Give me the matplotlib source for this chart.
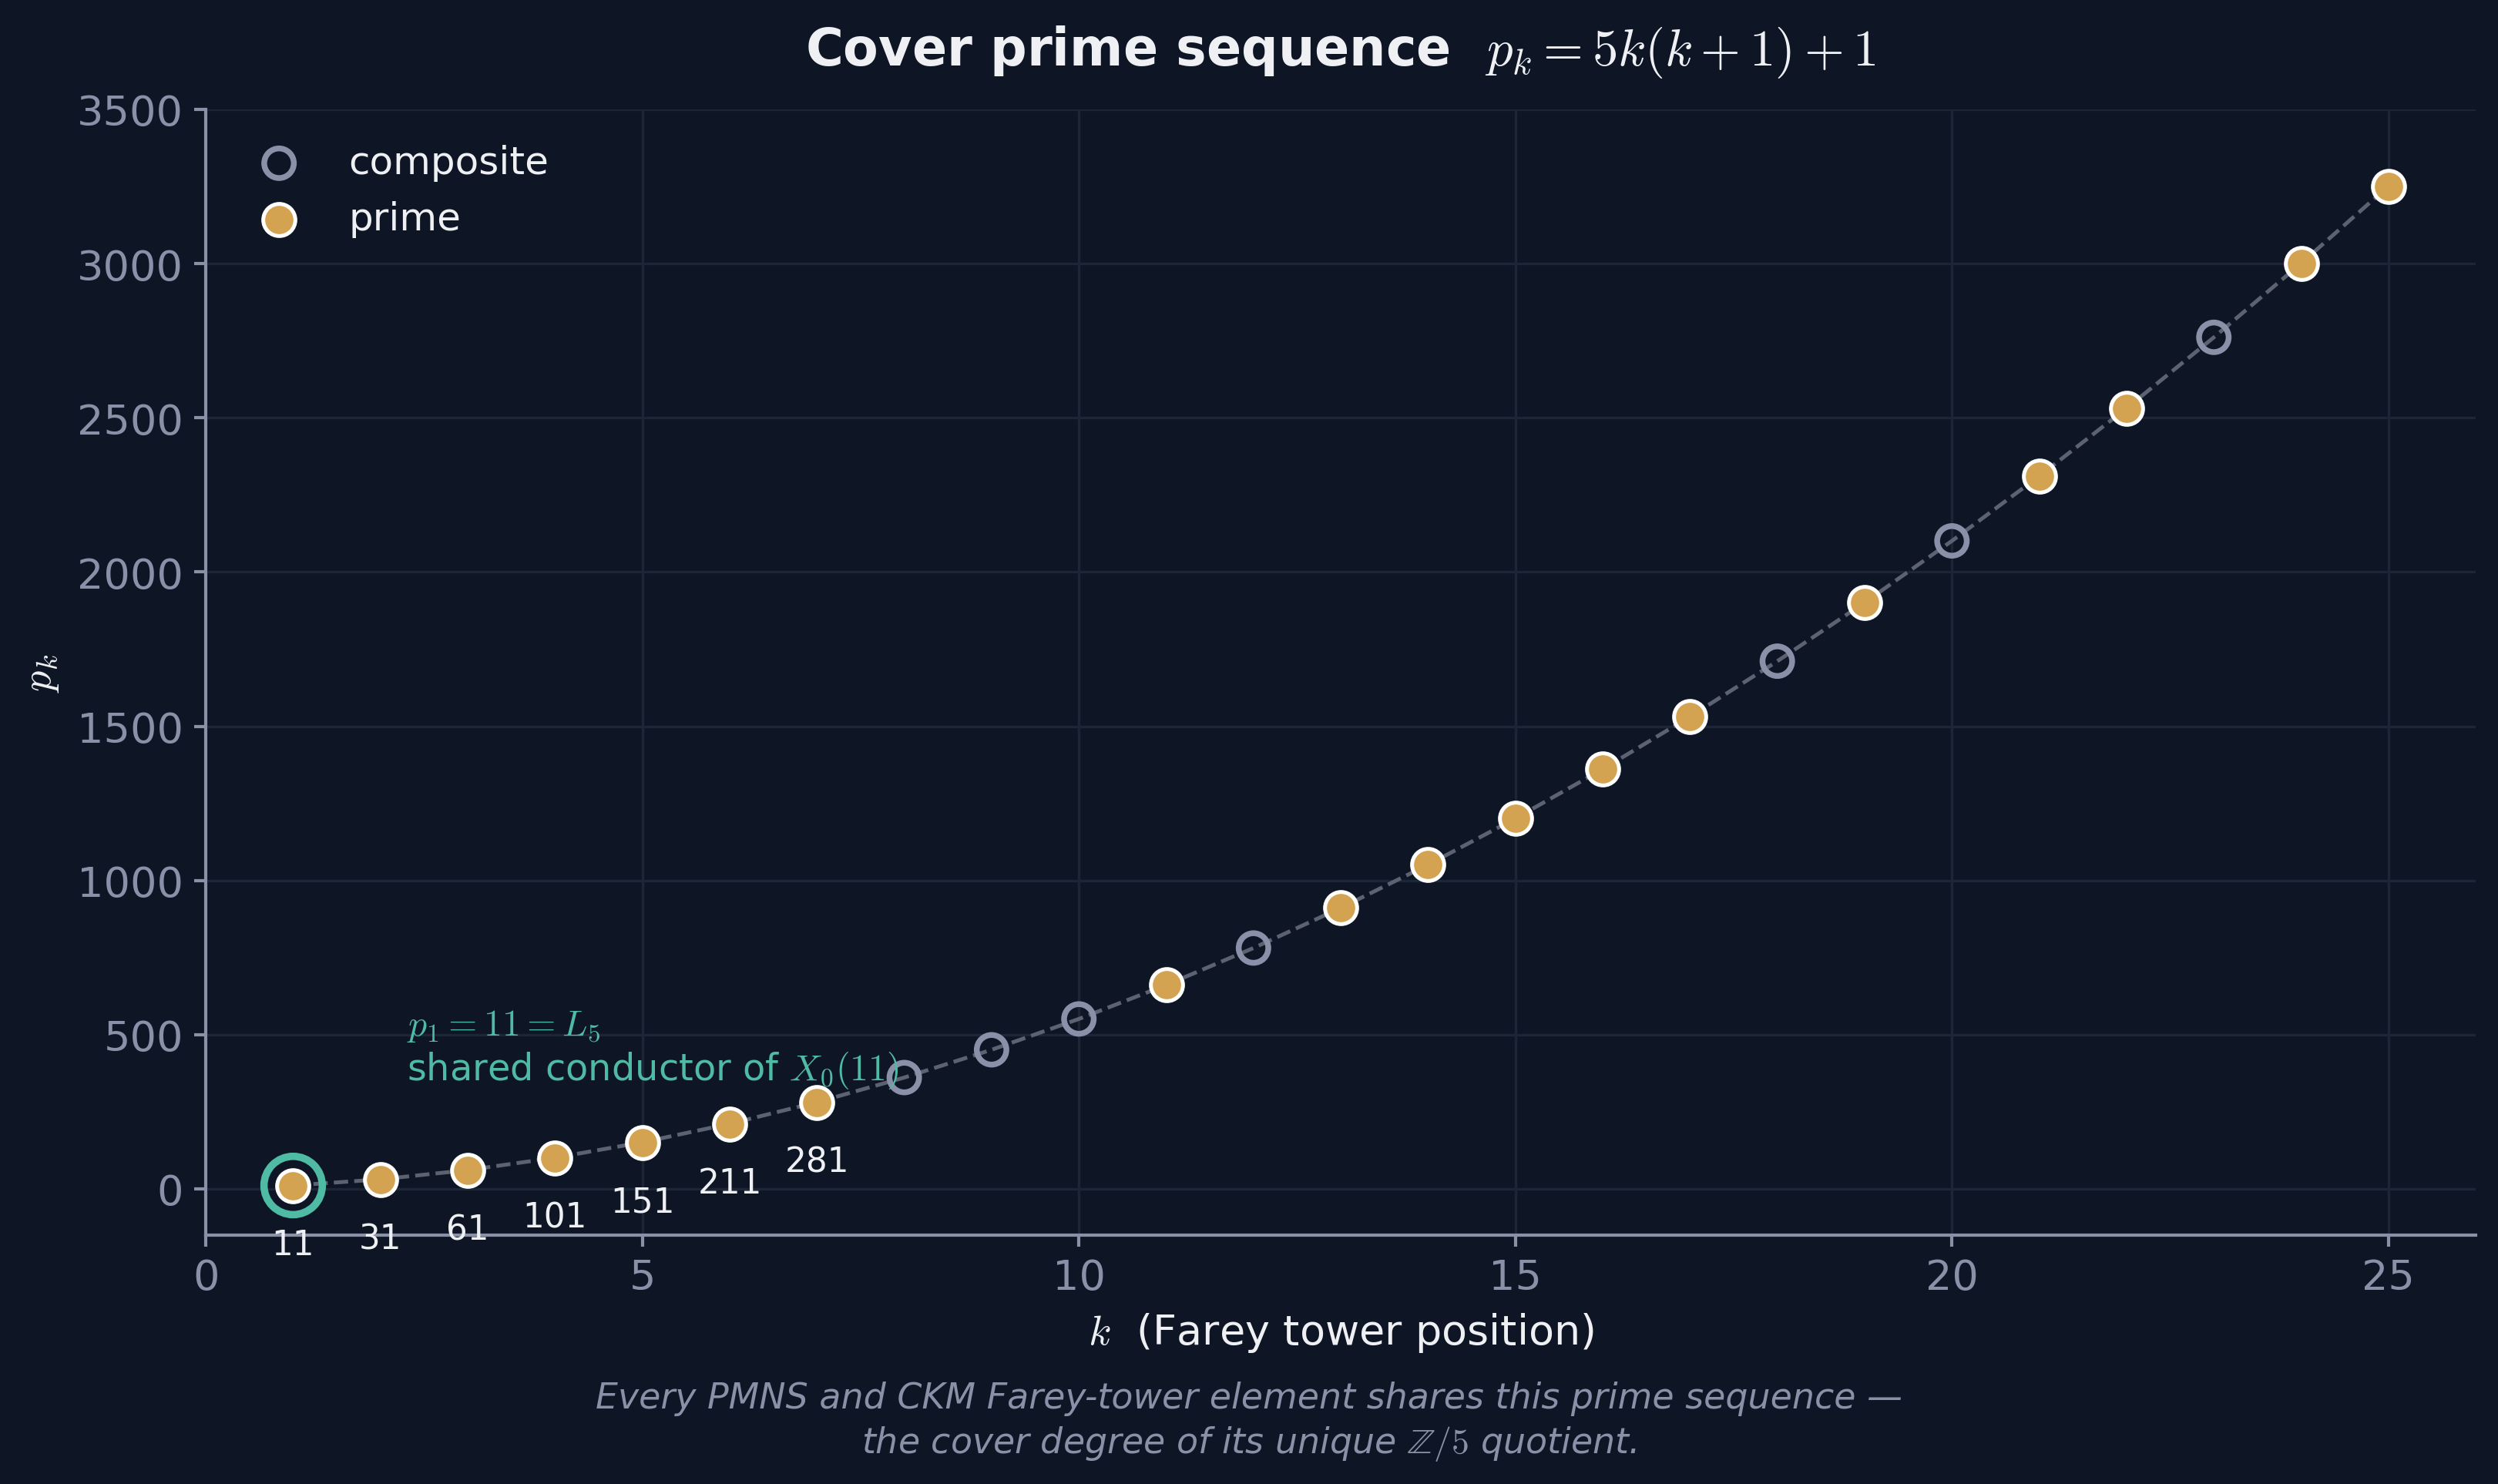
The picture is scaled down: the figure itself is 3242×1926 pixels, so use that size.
import matplotlib
matplotlib.use("Agg")
import matplotlib.pyplot as plt

# sequence values p_k for k = 1..25
k_vals = [1, 2, 3, 4, 5, 6, 7, 8, 9, 10, 11, 12, 13, 14, 15, 16, 17, 18, 19, 20, 21, 22, 23, 24, 25]
p_vals = [11, 31, 61, 101, 151, 211, 281, 361, 451, 551, 661, 781, 911, 1051, 1201,
          1361, 1531, 1711, 1901, 2101, 2311, 2531, 2761, 3001, 3251]
is_prime = [True, True, True, True, True, True, True, False, False, False, True, False, True,
            True, True, True, True, False, True, False, True, True, False, True, True]
labelled_k = [1, 2, 3, 4, 5, 6, 7]

x_ticks = [0, 5, 10, 15, 20, 25]
y_ticks = [0, 500, 1000, 1500, 2000, 2500, 3000, 3500]

bg = '#0e1524'
grid_c = '#1d2637'
muted = '#8a90a8'
gold = '#d4a351'
teal = '#4fbba5'
white = '#eef0f4'

plt.rcParams['mathtext.fontset'] = 'cm'

fig = plt.figure(figsize=(3242 / 300, 1927 / 300), dpi=300, facecolor=bg)
ax = fig.add_axes([0.0824, 0.1676, 0.9087, 0.7582])
ax.set_facecolor(bg)

# dashed guide through every point
ax.plot(k_vals, p_vals, ls='--', lw=1.2, color='#5c6272', zorder=2)

comp_k = [k for k, pr in zip(k_vals, is_prime) if not pr]
comp_p = [p for p, pr in zip(p_vals, is_prime) if not pr]
prime_k = [k for k, pr in zip(k_vals, is_prime) if pr]
prime_p = [p for p, pr in zip(p_vals, is_prime) if pr]

ax.scatter(comp_k, comp_p, s=85, facecolors='none', edgecolors=muted, linewidths=1.8,
           zorder=3, label='composite')
ax.scatter(prime_k, prime_p, s=100, color=gold, edgecolors='white', linewidths=1.2,
           zorder=4, label='prime')

# highlight ring on p_1
ax.scatter([k_vals[0]], [p_vals[0]], s=330, facecolors='none', edgecolors=teal,
           linewidths=2.3, zorder=5)

for k, p in zip(k_vals, p_vals):
    if k in labelled_k:
        ax.annotate(str(p), (k, p), xytext=(0, -18.5), textcoords='offset points',
                    ha='center', va='center', fontsize=10.5, color=white, zorder=6)

ax.text(2.3, 320, '$p_1 = 11 = L_5$\nshared conductor of $X_0(11)$', color=teal,
        fontsize=11.5, ha='left', va='bottom', linespacing=1.2, zorder=6)

ax.set_xlim(0, 26)
ax.set_ylim(-150, 3500)
ax.set_xticks(x_ticks)
ax.set_yticks(y_ticks)
ax.grid(True, color=grid_c, lw=0.8)
ax.set_axisbelow(True)

for side in ['top', 'right']:
    ax.spines[side].set_visible(False)
for side in ['left', 'bottom']:
    ax.spines[side].set_color(muted)
    ax.spines[side].set_linewidth(1.0)
ax.tick_params(colors=muted, labelsize=13, length=3.5, width=1.0)

ax.set_xlabel('$k$  (Farey tower position)', color=white, fontsize=13, labelpad=4)
ax.set_ylabel('$p_k$', color=white, fontsize=13, labelpad=5)
ax.set_title('Cover prime sequence  $p_k = 5k(k+1)+1$', color=white, fontsize=16,
             fontweight='bold', pad=14)

leg = ax.legend(loc='upper left', frameon=False, fontsize=12, labelspacing=0.5)
for t in leg.get_texts():
    t.set_color(white)

fig.text(0.5, 0.042,
         'Every PMNS and CKM Farey-tower element shares this prime sequence —\n'
         'the cover degree of its unique $\\mathbb{Z}/5$ quotient.',
         ha='center', va='center', color=muted, fontsize=11, style='italic',
         linespacing=1.3)

fig.savefig('out.png', dpi=300, facecolor=bg)
